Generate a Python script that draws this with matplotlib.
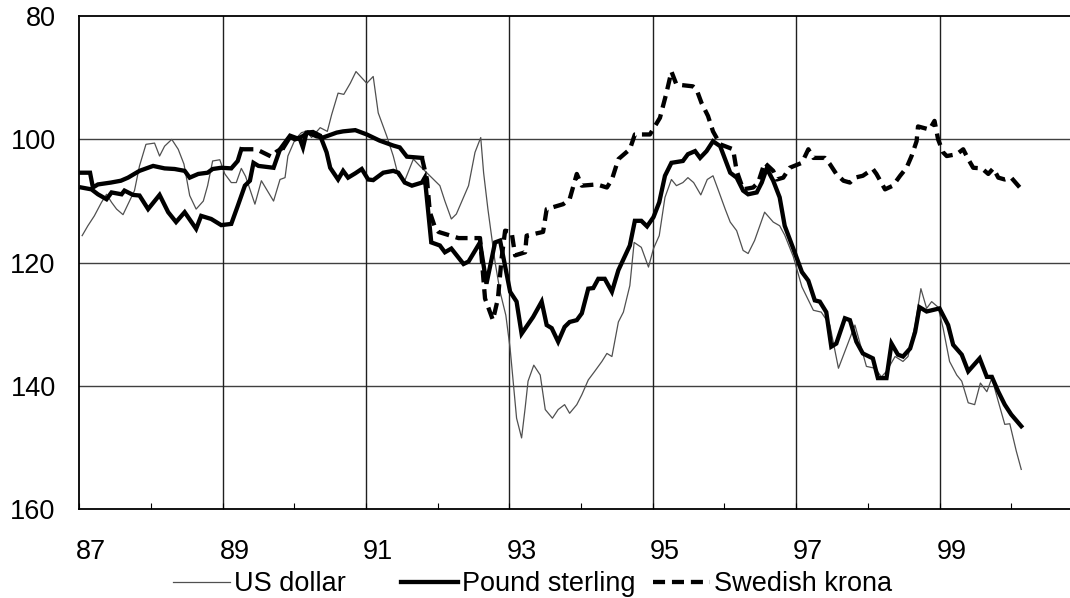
import matplotlib
matplotlib.use("Agg")
import matplotlib.pyplot as plt
import matplotlib.transforms as mtransforms
from matplotlib.ticker import FixedLocator, FuncFormatter

plt.rcParams['font.family'] = ['Liberation Sans', 'DejaVu Sans']

# series (decimal years, index values)
pound_x = [1987.03, 1987.17, 1987.26, 1987.38, 1987.45, 1987.59, 1987.63, 1987.75, 1987.84, 1987.96,
           1988.12, 1988.24, 1988.35, 1988.47, 1988.63, 1988.70, 1988.84, 1988.98, 1989.12, 1989.21,
           1989.31, 1989.38, 1989.43, 1989.50, 1989.71, 1989.80, 1989.94, 1990.01, 1990.08, 1990.12,
           1990.17, 1990.26, 1990.36, 1990.45, 1990.50, 1990.61, 1990.68, 1990.75, 1990.85, 1990.94,
           1991.03, 1991.10, 1991.24, 1991.38, 1991.45, 1991.54, 1991.64, 1991.78, 1991.82, 1991.91,
           1992.03, 1992.10, 1992.19, 1992.36, 1992.43, 1992.59, 1992.68, 1992.80, 1992.87, 1993.01,
           1993.10, 1993.17, 1993.33, 1993.45, 1993.52, 1993.59, 1993.68, 1993.77, 1993.84, 1993.94,
           1994.01, 1994.10, 1994.17, 1994.24, 1994.33, 1994.43, 1994.52, 1994.68, 1994.75, 1994.84,
           1994.92, 1995.01, 1995.09, 1995.17, 1995.26, 1995.42, 1995.49, 1995.59, 1995.66, 1995.75,
           1995.84, 1995.94, 1996.08, 1996.17, 1996.26, 1996.33, 1996.45, 1996.52, 1996.59, 1996.68,
           1996.77, 1996.84, 1996.96, 1997.08, 1997.17, 1997.26, 1997.33, 1997.42, 1997.49, 1997.56,
           1997.68, 1997.75, 1997.84, 1997.93, 1998.07, 1998.14, 1998.26, 1998.33, 1998.42, 1998.49,
           1998.59, 1998.66, 1998.72, 1998.82, 1999.00, 1999.12, 1999.19, 1999.31, 1999.40, 1999.56,
           1999.66, 1999.73, 1999.82, 1999.91, 2000.00, 2000.14]
pound_y = [107.8, 108.1, 108.9, 109.7, 108.6, 108.9, 108.3, 109.0, 109.1, 111.3,
           109.0, 111.8, 113.4, 111.8, 114.5, 112.4, 112.9, 113.9, 113.7, 110.8,
           107.5, 106.7, 103.8, 104.3, 104.6, 101.6, 99.4, 99.7, 100.0, 101.3,
           98.9, 98.8, 99.4, 102.1, 104.6, 106.5, 105.1, 106.2, 105.5, 104.8,
           106.5, 106.6, 105.4, 105.1, 105.4, 107.0, 107.5, 107.0, 106.2, 116.7,
           117.2, 118.3, 117.7, 120.2, 119.8, 116.7, 123.4, 116.7, 116.4, 124.7,
           126.3, 131.5, 128.8, 126.3, 130.1, 130.6, 132.8, 130.4, 129.6, 129.3,
           128.2, 124.2, 124.1, 122.6, 122.6, 124.7, 121.2, 117.2, 113.2, 113.2,
           114.1, 112.6, 110.2, 105.9, 103.8, 103.5, 102.4, 101.9, 103.0, 101.9,
           100.3, 101.1, 105.4, 106.2, 108.3, 108.9, 108.6, 107.0, 104.7, 106.7,
           109.4, 114.0, 117.7, 121.5, 122.9, 126.1, 126.3, 128.0, 133.6, 133.1,
           129.0, 129.3, 132.8, 134.7, 135.5, 138.7, 138.7, 133.1, 134.9, 135.2,
           133.9, 131.2, 127.2, 127.9, 127.4, 130.1, 133.3, 134.9, 137.6, 135.5,
           138.5, 138.5, 140.9, 143.0, 144.6, 146.5]

krona_x = [1987.03, 1987.15, 1987.19, 1987.26, 1987.44, 1987.58, 1987.68, 1987.84, 1988.03, 1988.19,
           1988.33, 1988.47, 1988.54, 1988.66, 1988.79, 1988.86, 1988.98, 1989.12, 1989.21, 1989.26,
           1989.47, 1989.61, 1989.68, 1989.75, 1989.85, 1989.94, 1990.01, 1990.10, 1990.19, 1990.31,
           1990.40, 1990.59, 1990.68, 1990.85, 1991.01, 1991.19, 1991.38, 1991.47, 1991.57, 1991.78,
           1991.85, 1991.89, 1991.96, 1992.01, 1992.29, 1992.59, 1992.66, 1992.77, 1992.84, 1992.89,
           1992.94, 1993.03, 1993.08, 1993.22, 1993.24, 1993.47, 1993.52, 1993.75, 1993.84, 1993.94,
           1994.01, 1994.22, 1994.36, 1994.43, 1994.52, 1994.68, 1994.75, 1994.96, 1995.10, 1995.19,
           1995.26, 1995.33, 1995.56, 1995.61, 1995.68, 1995.77, 1995.84, 1995.94, 1996.12, 1996.17,
           1996.26, 1996.40, 1996.47, 1996.56, 1996.68, 1996.73, 1996.82, 1996.91, 1997.08, 1997.17,
           1997.24, 1997.40, 1997.47, 1997.56, 1997.66, 1997.75, 1997.82, 1997.93, 1998.07, 1998.12,
           1998.24, 1998.35, 1998.45, 1998.54, 1998.61, 1998.68, 1998.70, 1998.86, 1998.93, 1998.98,
           1999.05, 1999.10, 1999.24, 1999.33, 1999.40, 1999.47, 1999.59, 1999.68, 1999.75, 1999.82,
           1999.91, 2000.00, 2000.12]
krona_y = [105.4, 105.4, 107.8, 107.3, 107.0, 106.7, 106.2, 105.1, 104.3, 104.7,
           104.8, 105.1, 106.2, 105.6, 105.4, 104.8, 104.6, 104.7, 103.5, 101.6,
           101.6, 102.4, 102.8, 102.0, 101.3, 99.6, 100.0, 99.6, 98.9, 99.5,
           99.7, 98.9, 98.7, 98.5, 99.2, 100.2, 101.0, 101.3, 102.8, 103.0,
           106.5, 111.8, 114.2, 115.0, 116.0, 116.0, 125.8, 129.3, 125.8, 119.4,
           114.8, 115.0, 118.8, 118.3, 115.6, 115.0, 111.3, 110.5, 109.7, 105.6,
           107.5, 107.3, 107.8, 106.5, 103.2, 101.6, 99.2, 99.2, 96.5, 92.5,
           89.0, 91.1, 91.4, 91.9, 94.1, 96.2, 98.7, 100.8, 101.6, 105.1,
           108.1, 107.8, 107.0, 103.8, 105.1, 106.5, 106.2, 104.6, 103.8, 101.6,
           103.0, 103.0, 104.0, 105.6, 106.7, 107.0, 106.2, 105.9, 104.8, 105.6,
           108.1, 107.5, 105.9, 104.6, 102.7, 100.3, 97.9, 98.4, 97.0, 100.0,
           102.1, 102.7, 102.4, 101.6, 103.2, 104.6, 104.7, 105.6, 104.7, 106.2,
           106.5, 106.2, 107.8]

usd_x = [1987.04, 1987.12, 1987.21, 1987.31, 1987.38, 1987.45, 1987.52, 1987.61, 1987.70, 1987.77,
         1987.84, 1987.93, 1988.05, 1988.12, 1988.19, 1988.29, 1988.38, 1988.46, 1988.54, 1988.63,
         1988.73, 1988.79, 1988.86, 1988.96, 1989.03, 1989.12, 1989.19, 1989.26, 1989.32, 1989.45,
         1989.54, 1989.71, 1989.80, 1989.87, 1989.91, 1990.01, 1990.10, 1990.17, 1990.24, 1990.36,
         1990.46, 1990.52, 1990.61, 1990.69, 1990.78, 1990.86, 1990.94, 1991.01, 1991.10, 1991.17,
         1991.29, 1991.38, 1991.45, 1991.54, 1991.66, 1991.75, 1991.89, 1992.03, 1992.10, 1992.19,
         1992.26, 1992.33, 1992.43, 1992.52, 1992.60, 1992.64, 1992.70, 1992.80, 1992.87, 1992.95,
         1993.01, 1993.10, 1993.17, 1993.22, 1993.26, 1993.34, 1993.43, 1993.50, 1993.60, 1993.68,
         1993.77, 1993.84, 1993.94, 1994.01, 1994.10, 1994.19, 1994.29, 1994.36, 1994.43, 1994.52,
         1994.59, 1994.68, 1994.74, 1994.84, 1994.94, 1995.01, 1995.09, 1995.17, 1995.26, 1995.33,
         1995.42, 1995.49, 1995.57, 1995.67, 1995.76, 1995.84, 1995.91, 1996.01, 1996.08, 1996.17,
         1996.26, 1996.33, 1996.42, 1996.56, 1996.68, 1996.77, 1996.84, 1996.96, 1997.08, 1997.24,
         1997.35, 1997.47, 1997.59, 1997.82, 1997.98, 1998.10, 1998.19, 1998.26, 1998.38, 1998.49,
         1998.56, 1998.66, 1998.74, 1998.82, 1998.89, 1998.98, 1999.05, 1999.14, 1999.24, 1999.31,
         1999.40, 1999.49, 1999.57, 1999.66, 1999.73, 1999.82, 1999.91, 1999.98, 2000.07, 2000.14]
usd_y = [115.6, 114.0, 112.4, 110.2, 108.9, 110.2, 111.3, 112.2, 110.0, 108.3,
         104.3, 100.8, 100.6, 102.7, 101.1, 100.0, 101.6, 104.0, 109.1, 111.3,
         110.0, 107.5, 103.5, 103.3, 105.6, 107.0, 107.0, 104.7, 106.0, 110.5,
         106.7, 110.0, 106.5, 106.2, 102.7, 100.0, 98.9, 98.7, 99.7, 98.1,
         98.7, 96.0, 92.5, 92.7, 90.9, 89.0, 90.0, 90.9, 89.8, 95.7,
         99.5, 102.7, 105.9, 106.7, 103.2, 104.3, 105.9, 107.5, 110.0, 112.9,
         112.1, 110.2, 107.5, 102.1, 99.7, 105.4, 111.3, 119.9, 124.7, 128.5,
         133.9, 145.2, 148.4, 143.5, 139.2, 136.6, 138.2, 143.8, 145.2, 143.8,
         143.0, 144.4, 143.0, 141.4, 139.0, 137.6, 136.0, 134.7, 135.2, 129.6,
         128.0, 123.7, 116.7, 117.5, 120.7, 117.7, 115.6, 109.4, 106.5, 107.5,
         107.0, 106.2, 107.0, 109.0, 106.5, 105.9, 108.1, 111.3, 113.4, 114.8,
         118.0, 118.5, 116.4, 111.8, 113.4, 114.0, 115.5, 119.0, 123.9, 127.7,
         128.0, 130.1, 137.1, 130.1, 136.8, 137.1, 138.5, 137.6, 135.2, 136.0,
         135.2, 130.1, 124.2, 127.4, 126.3, 127.2, 130.6, 136.0, 138.2, 139.2,
         142.7, 143.0, 139.5, 140.9, 138.7, 142.5, 146.2, 146.1, 150.5, 153.5]

year_ticks = [1987, 1989, 1991, 1993, 1995, 1997, 1999]
minor_ticks = [1988, 1990, 1992, 1994, 1996, 1998, 2000]
y_ticks = [80, 100, 120, 140, 160]

# stretches of the krona line that look solid in the original (short segments
# swallow the dash gaps), by point index
krona_solid = [(0, 20), (24, 40)]
krona_dashed = [(19, 25), (39, len(krona_x))]

FS = 19.5
DASH = (0, (2.8, 1.6))

fig = plt.figure(figsize=(10.7, 5.98), dpi=100)
ax = fig.add_axes([0.0741, 0.148, 1 - 0.0741, 0.9732 - 0.148])

l_usd, = ax.plot(usd_x, usd_y, color='#505050', lw=0.9, zorder=3)
l_gbp, = ax.plot(pound_x, pound_y, color='black', lw=3.1, zorder=4, solid_joinstyle='miter')
for a, b in krona_solid:
    ax.plot(krona_x[a:b], krona_y[a:b], color='black', lw=3.1, zorder=4,
            solid_joinstyle='miter')
for a, b in krona_dashed:
    l_sek, = ax.plot(krona_x[a:b], krona_y[a:b], color='black', lw=3.1, ls=DASH,
                     zorder=4, dash_capstyle='butt')

ax.set_xlim(1987, 2000.82)
ax.set_ylim(160, 80)

ax.xaxis.set_major_locator(FixedLocator(year_ticks))
ax.xaxis.set_minor_locator(FixedLocator(minor_ticks))
ax.xaxis.set_major_formatter(FuncFormatter(lambda v, p: '%02d' % (int(round(v)) % 100)))
ax.set_yticks(y_ticks)

for yv in [100, 120, 140]:
    ax.axhline(yv, color='#404040', lw=1.0, zorder=1)
for xv in year_ticks[1:]:
    ax.axvline(xv, color='#202020', lw=1.0, zorder=1)

ax.tick_params(axis='x', which='both', direction='in', length=4, width=0.8,
               labelsize=FS, pad=21)
ax.tick_params(axis='y', length=0, labelsize=FS, pad=17)

shift = mtransforms.ScaledTranslation(12 / 100, 0, fig.dpi_scale_trans)
for lab in ax.get_xticklabels():
    lab.set_transform(lab.get_transform() + shift)

for side in ['left', 'top', 'bottom']:
    ax.spines[side].set_linewidth(1.3)
    ax.spines[side].set_color('black')
ax.spines['right'].set_visible(False)

# legend entries sit in equal slots like the original
entries = [(l_usd, 'US dollar', 173), (l_gbp, 'Pound sterling', 401), (l_sek, 'Swedish krona', 653)]
for handle, text, xpix in entries:
    fig.legend([handle], [text], loc='center left', bbox_to_anchor=(xpix / 1070, 1 - 584 / 598),
               frameon=False, fontsize=FS, handlelength=2.1, handletextpad=0.15,
               borderpad=0, borderaxespad=0)

fig.savefig('out.png', dpi=100)
